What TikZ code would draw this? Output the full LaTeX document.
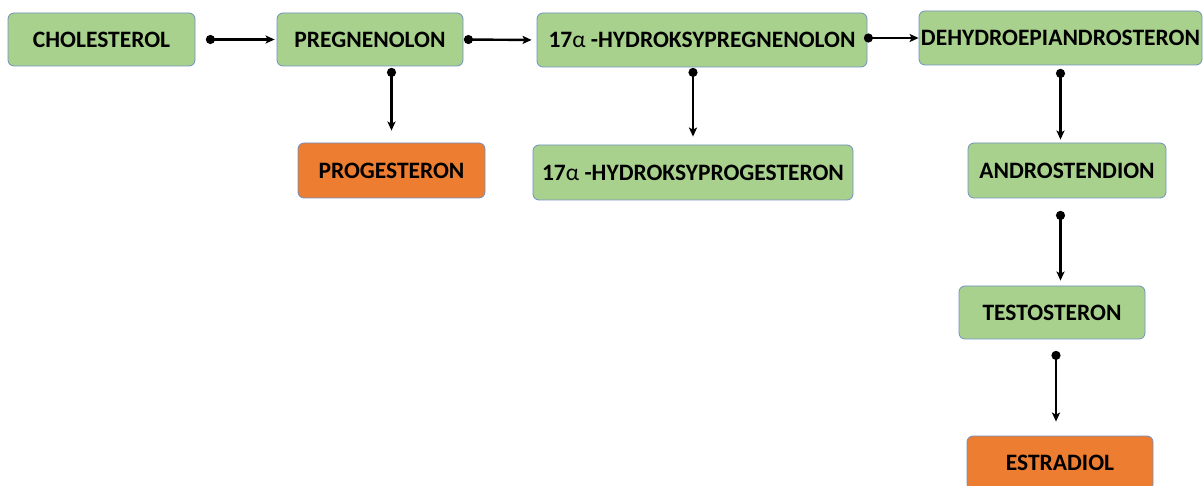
\documentclass[tikz,border=0pt]{standalone}
\usepackage{fontspec}
\setmainfont{Carlito}
\usetikzlibrary{arrows.meta,calc}
\definecolor{boxgreen}{HTML}{A9D18E}
\definecolor{boxorange}{HTML}{ED7D31}
\definecolor{boxline}{HTML}{7090C0}
\newcommand{\alp}{{\mdseries α}}
\tikzset{
  stepbox/.style={draw=boxline, line width=0.8pt, rounded corners=6pt, fill=boxgreen,
    inner sep=0pt, align=center, font=\fontsize{23.5}{27}\selectfont\bfseries},
  endbox/.style={stepbox, fill=boxorange},
  conn/.style={line width=2.4pt, {Circle[length=9pt]}-{Stealth[length=9pt,width=8pt,inset=2pt]}},
}
\begin{document}
\begin{tikzpicture}[x=1pt,y=-1pt]
\useasboundingbox (0,0) rectangle (1203,486);
\node[stepbox, minimum width=187pt, minimum height=53pt] (chol) at (101.5,39.5) {CHOLESTEROL};
\node[stepbox, minimum width=186pt, minimum height=53pt] (preg) at (370,39.5) {PREGNENOLON};
\node[stepbox, minimum width=330pt, minimum height=54pt] (hp) at (702,40) {17\alp\ -HYDROKSYPREGNENOLON};
\node[stepbox, minimum width=283pt, minimum height=54pt] (dhea) at (1060.5,38) {DEHYDROEPIANDROSTERON};
\node[endbox, minimum width=187pt, minimum height=55pt] (prog) at (391.5,170.5) {PROGESTERON};
\node[stepbox, minimum width=320pt, minimum height=55pt] (hprog) at (693,172.5) {17\alp\ -HYDROKSYPROGESTERON};
\node[stepbox, minimum width=198pt, minimum height=55pt] (andro) at (1067,170.5) {ANDROSTENDION};
\node[stepbox, minimum width=186pt, minimum height=53pt] (testo) at (1052,312.5) {TESTOSTERON};
\node[endbox, minimum width=186pt, minimum height=54pt] (estr) at (1060,463) {ESTRADIOL};

\draw[conn, shorten <=10.5pt, shorten >=2pt] (chol.east) -- (preg.west);
\draw[conn, shorten <=0.5pt, shorten >=5pt] (preg.east) -- (hp.west);
\draw[conn, shorten <=-3.5pt, shorten >=0pt] (hp.east |- dhea.west) -- (dhea.west);
\draw[conn, shorten <=1.5pt, shorten >=12pt] (preg.south -| prog.north) -- (prog.north);
\draw[conn, shorten <=0.5pt, shorten >=8pt] (hp.south -| hprog.north) -- (hprog.north);
\draw[conn, shorten <=3.5pt, shorten >=3pt] (dhea.south) -- (dhea.south |- andro.north);
\draw[conn, shorten <=12.5pt, shorten >=5pt] (andro.south -| dhea.south) -- (testo.north -| dhea.south);
\coordinate (m) at ($(testo.south)!.5!(estr.north)$);
\draw[conn, shorten <=11.5pt, shorten >=14pt] (testo.south -| m) -- (estr.north -| m);
\end{tikzpicture}
\end{document}
